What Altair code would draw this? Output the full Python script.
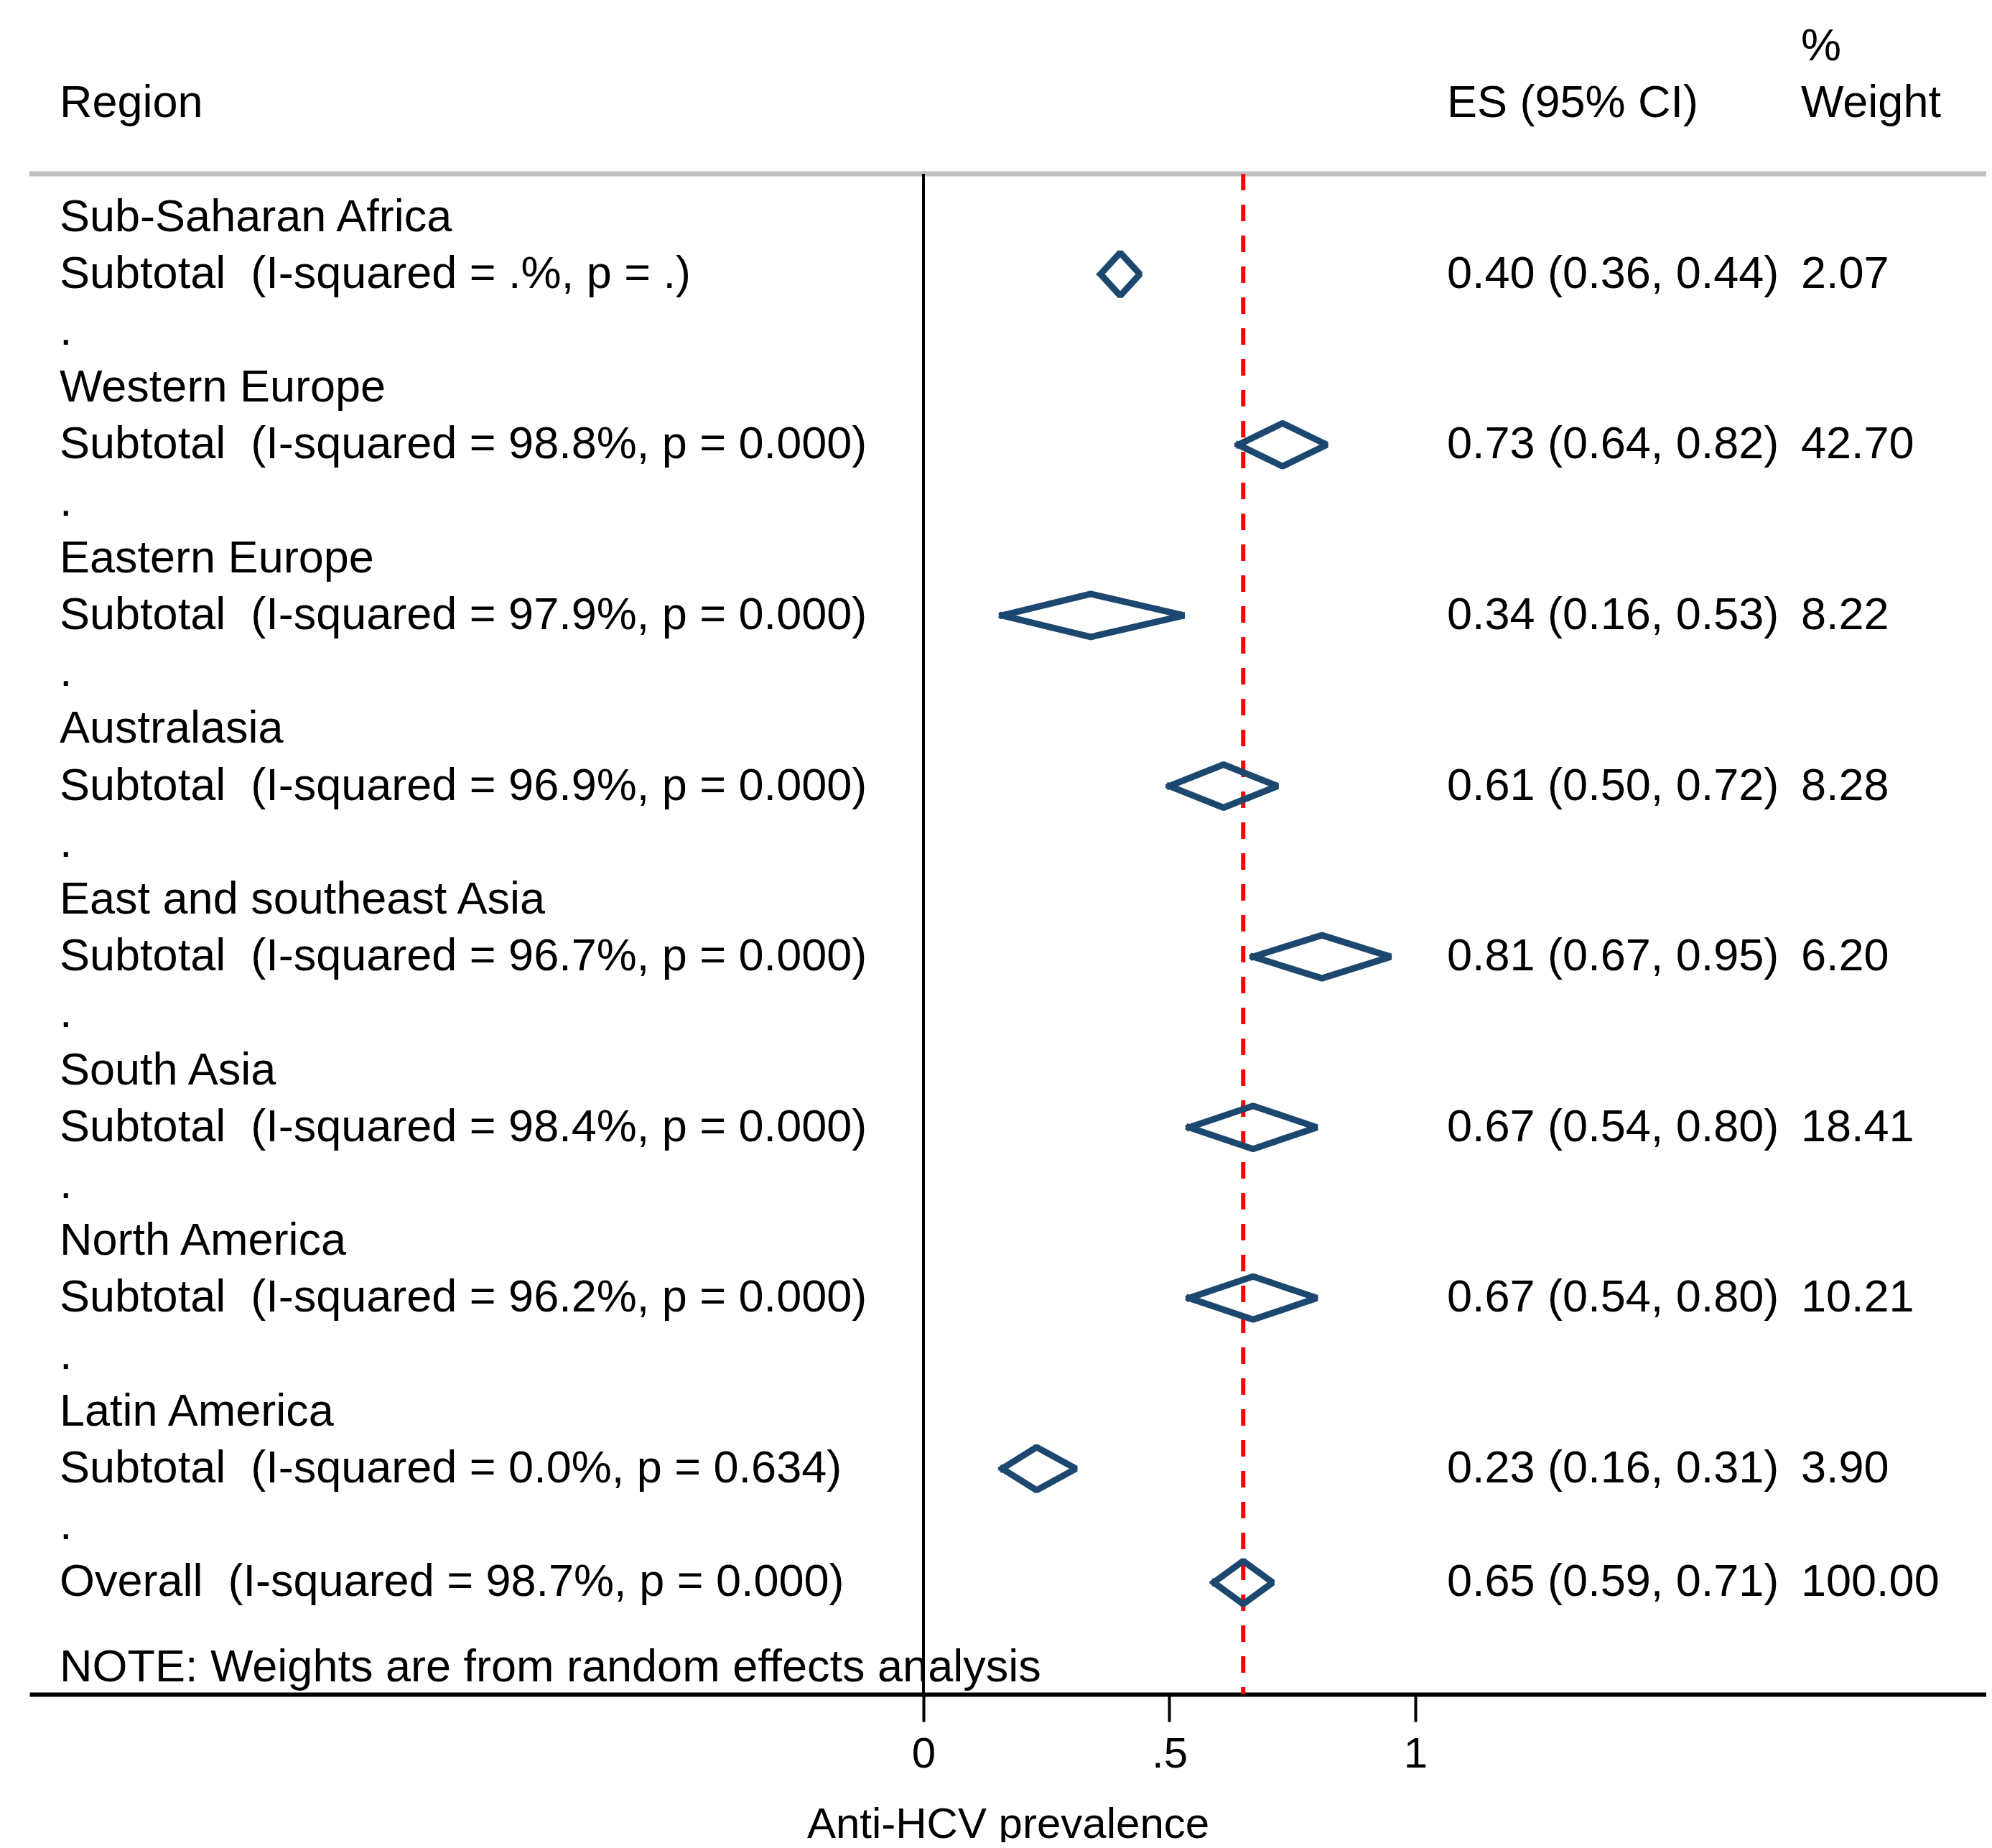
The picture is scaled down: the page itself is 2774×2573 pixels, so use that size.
import altair as alt
import pandas as pd

# ---- data ----
regions = ["Sub-Saharan Africa", "Western Europe", "Eastern Europe", "Australasia",
           "East and southeast Asia", "South Asia", "North America", "Latin America"]
i_squared = [".%", "98.8%", "97.9%", "96.9%", "96.7%", "98.4%", "96.2%", "0.0%"]
p_values = [".", "0.000", "0.000", "0.000", "0.000", "0.000", "0.000", "0.634"]
es = [0.40, 0.73, 0.34, 0.61, 0.81, 0.67, 0.67, 0.23]
lo = [0.36, 0.64, 0.16, 0.50, 0.67, 0.54, 0.54, 0.16]
hi = [0.44, 0.82, 0.53, 0.72, 0.95, 0.80, 0.80, 0.31]
weights = ["2.07", "42.70", "8.22", "8.28", "6.20", "18.41", "10.21", "3.90"]
overall_es, overall_lo, overall_hi = 0.65, 0.59, 0.71
overall_weight = "100.00"
overall_i2, overall_p = "98.7%", "0.000"
tick_values = [0, 0.5, 1]
x_title = "Anti-HCV prevalence"
note = "NOTE: Weights are from random effects analysis"

# ---- layout ----
W, H = 2725, 2351
ROW = 79.2
FONT = "Liberation Sans"
FS = 63
BLUE = "#1c4870"
xscale = alt.Scale(domain=[-1245 / 685, (W - 1245) / 685], nice=False, zero=False)
yscale = alt.Scale(domain=[-294.5 / ROW, (H - 294.5) / ROW], reverse=True, nice=False, zero=False)
xaxis = alt.Axis(values=tick_values, labelExpr="datum.value == 0.5 ? '.5' : datum.label",
                 title=x_title, grid=False, domainColor="black", domainWidth=6,
                 tickColor="black", tickWidth=4, tickSize=38, labelPadding=16,
                 labelFont=FONT, labelFontSize=60, labelColor="black",
                 titleFont=FONT, titleFontSize=60, titleFontWeight="normal",
                 titleColor="black", titlePadding=39)

NB = "\u00a0"
left_rows, es_rows, w_rows = [], [], []
left_rows.append({"row": -2, "label": "Region"})
es_rows.append({"row": -2, "label": "ES (95% CI)"})
w_rows.append({"row": -3, "label": "%"})
w_rows.append({"row": -2, "label": "Weight"})
dia = []
for g, reg in enumerate(regions):
    left_rows.append({"row": 3 * g, "label": reg})
    left_rows.append({"row": 3 * g + 1,
                      "label": f"Subtotal {NB}(I-squared = {i_squared[g]}, p = {p_values[g]})"})
    left_rows.append({"row": 3 * g + 2, "label": "."})
    es_rows.append({"row": 3 * g + 1, "label": f"{es[g]:.2f} ({lo[g]:.2f}, {hi[g]:.2f})"})
    w_rows.append({"row": 3 * g + 1, "label": weights[g]})
    dia.append((g, 3 * g + 1, lo[g], es[g], hi[g]))
left_rows.append({"row": 24, "label": f"Overall {NB}(I-squared = {overall_i2}, p = {overall_p})"})
left_rows.append({"row": 25.5, "label": note})
es_rows.append({"row": 24, "label": f"{overall_es:.2f} ({overall_lo:.2f}, {overall_hi:.2f})"})
w_rows.append({"row": 24, "label": overall_weight})
dia.append((len(regions), 24, overall_lo, overall_es, overall_hi))

h = 30 / ROW
dia_rows = []
for gid, r, l, e, u in dia:
    pts = [(l, r), (e, r - h), (u, r), (e, r + h), (l, r)]
    for k, (xx, yy) in enumerate(pts):
        dia_rows.append({"gid": gid, "k": k, "x": xx, "y": yy})

df_left = pd.DataFrame(left_rows)
df_es = pd.DataFrame(es_rows)
df_w = pd.DataFrame(w_rows)
df_dia = pd.DataFrame(dia_rows)
df_zero = pd.DataFrame({"x": [0.0]})
df_overall = pd.DataFrame({"x": [overall_es]})


def text_layer(df, xpix):
    return alt.Chart(df).mark_text(align="left", baseline="middle", font=FONT,
                                   fontSize=FS, color="black").encode(
        x=alt.value(xpix),
        y=alt.Y("row:Q", scale=yscale, axis=None),
        text="label:N")


header_line = alt.Chart(df_zero).mark_rule(color="#c0c0c0", strokeWidth=7).encode(
    x=alt.value(0), x2=alt.value(W), y=alt.value(234))

zero_line = alt.Chart(df_zero).mark_rule(color="black", strokeWidth=4).encode(
    x=alt.X("x:Q", scale=xscale, axis=xaxis), y=alt.value(234), y2=alt.value(H))

overall_line = alt.Chart(df_overall).mark_rule(color="#ff0000", strokeWidth=6,
                                                strokeDash=[23, 20]).encode(
    x=alt.X("x:Q", scale=xscale, axis=xaxis), y=alt.value(234), y2=alt.value(H))

diamonds = alt.Chart(df_dia).mark_line(color=BLUE, strokeWidth=9, strokeJoin="bevel",
                                       strokeCap="square").encode(
    x=alt.X("x:Q", scale=xscale, axis=xaxis),
    y=alt.Y("y:Q", scale=yscale, axis=None),
    order="k:Q",
    detail="gid:N")

chart = alt.layer(
    header_line, zero_line, overall_line, diamonds,
    text_layer(df_left, 42), text_layer(df_es, 1974), text_layer(df_w, 2467),
).properties(
    width=W, height=H,
    autosize=alt.AutoSizeParams(type="none"),
    padding={"left": 33, "top": 0, "right": 0, "bottom": 206},
    background="white",
).configure_view(stroke=None)

chart.save("out.html", embed_options={"renderer": "svg", "actions": False})
